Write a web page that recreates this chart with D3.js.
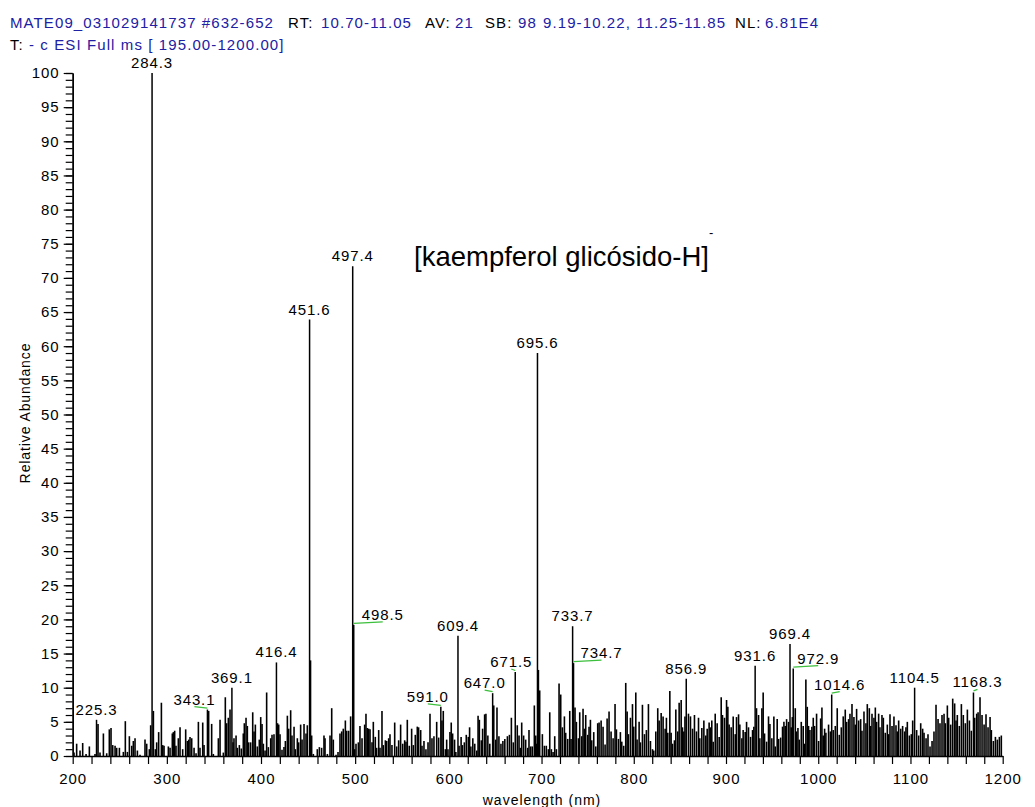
<!DOCTYPE html>
<html><head><meta charset="utf-8">
<script src="https://cdn.jsdelivr.net/npm/d3@7"></script>
<style>
body{margin:0;background:#fff}
text{font-family:"Liberation Sans",Arial,sans-serif}
</style>
</head><body>
<svg id="c" width="1035" height="807"></svg>
<script>
// ---------- DATA ----------
const headerLine1 = [
  ["MATE09_031029141737 #632-652", "v"], ["RT:", "k"], ["10.70-11.05", "v"],
  ["AV:", "k"], ["21", "v"], ["SB:", "k"], ["98", "v"],
  ["9.19-10.22, 11.25-11.85", "v"], ["NL:", "k"], ["6.81E4", "v"]
];
const headerLine2 = [["T:", "k"], ["- c ESI Full ms [ 195.00-1200.00]", "v"]];
const yTitle = "Relative Abundance";
const xTitle = "wavelength (nm)";
const annotation = "[kaempferol glicósido-H]";
const annotationSup = "-";

const xMinorTicks = d3.range(200, 1201, 20);
const xLabelTicks = [200, 300, 400, 500, 600, 700, 800, 900, 1000, 1100, 1200];
const yMinorTicks = d3.range(0, 101, 1);
const yLabelTicks = d3.range(0, 101, 5);

// labelled peaks
const peakMz    = [225.3, 284.3, 343.1, 369.1, 416.4, 451.6, 497.4, 498.5, 591.0, 609.4, 647.0, 671.5, 695.6, 733.7, 734.7, 856.9, 931.6, 969.4, 972.9, 1014.6, 1104.5, 1168.3];
const peakAbund = [5.3, 100, 6.8, 10.0, 13.7, 63.9, 71.7, 19.2, 7.2, 17.6, 9.2, 12.3, 59.0, 19.0, 13.6, 11.3, 13.2, 16.4, 12.8, 9.0, 10.0, 9.3];

// unlabelled spectrum lines [m/z, relative abundance]
const noise = [
[201.4,0.5],[204.2,1.8],[207.8,0.8],[210.6,1.9],[214.2,0.3],[217.7,1.4],[223.7,0.3],[226.9,4.7],[229.0,0.5],[232.6,3.3],[236.1,0.4],[238.9,3.9],[240.7,4.1],[242.5,1.6],[245.0,1.5],[246.7,1.2],[249.6,1.2],[253.8,0.6],[255.9,5.1],[258.1,0.6],[260.2,2.9],[262.7,1.5],[264.4,2.2],[266.2,2.6],[268.7,0.8],[271.5,0.2],[276.8,2.4],[278.6,1.8],[281.4,1.0],[282.8,4.5],[285.7,6.6],[287.8,1.0],[289.2,2.0],[291.3,3.5],[294.2,7.8],[295.6,1.6],[297.0,1.5],
[301.6,1.4],[303.4,1.2],[305.8,3.3],[306.9,3.5],[308.3,3.7],[309.7,1.5],[312.2,2.6],[314.0,4.2],[316.8,1.0],[320.0,3.9],[321.8,2.2],[323.2,2.4],[324.6,2.8],[326.4,2.6],[328.9,1.2],[331.0,0.4],[333.5,5.0],[335.2,1.2],[338.1,4.9],[339.5,1.6],[344.4,6.6],[347.6,4.7],[349.4,0.3],[354.7,2.6],[356.5,5.3],[360.0,0.5],[362.1,8.6],[363.5,4.8],[365.3,5.6],[367.1,6.8],[370.3,2.0],[371.3,2.6],[373.5,3.0],[374.9,1.2],[377.0,1.6],[379.1,1.1],[381.2,3.3],[382.3,4.8],[384.1,5.6],[385.5,4.4],[386.9,2.0],[389.0,2.0],[391.2,6.4],[392.6,3.6],[394.0,4.6],[396.1,1.4],[398.2,2.4],[399.7,5.7],
[401.1,4.7],[402.5,1.8],[404.3,0.8],[406.0,9.3],[407.8,1.3],[410.3,2.6],[411.7,3.1],[413.8,3.2],[417.6,4.8],[418.8,4.6],[420.2,3.2],[422.3,0.9],[424.4,1.3],[425.9,2.2],[428.0,5.9],[429.4,4.0],[431.5,6.7],[432.9,3.0],[435.1,4.3],[436.5,1.0],[438.6,2.6],[440.0,2.0],[442.1,4.6],[443.6,2.4],[445.7,4.7],[447.8,3.3],[449.2,4.5],[452.6,14.0],[453.8,3.0],[455.6,0.3],[459.8,1.0],[462.0,1.3],[464.4,1.2],[466.9,3.0],[468.0,2.6],[470.5,0.3],[473.3,3.0],[475.1,7.0],[476.8,2.4],[479.7,0.2],[481.8,0.6],[483.9,3.3],[485.7,3.6],[487.4,4.0],[489.6,5.2],[491.0,3.7],[493.1,3.7],[495.2,5.8],[499.5,1.0],
[500.9,1.8],[503.4,2.0],[505.1,4.4],[507.3,2.6],[510.1,4.6],[511.5,6.2],[512.9,4.1],[514.4,4.0],[515.8,3.9],[517.9,2.0],[519.3,5.0],[521.4,2.8],[522.8,1.2],[525.0,3.8],[526.4,1.2],[528.5,6.6],[529.9,1.6],[532.1,2.3],[533.5,2.2],[535.6,2.6],[537.0,3.2],[539.1,1.6],[542.0,4.9],[544.1,1.4],[546.2,2.3],[548.3,4.6],[550.5,1.8],[552.6,2.3],[554.0,2.1],[555.4,5.3],[557.5,1.5],[560.0,4.0],[561.8,1.6],[563.9,3.1],[566.0,4.3],[567.4,4.2],[569.6,3.8],[571.0,1.5],[573.1,2.2],[575.2,1.0],[577.4,2.0],[579.5,6.2],[581.6,2.6],[583.7,2.9],[586.6,5.0],[588.7,2.7],[592.2,5.2],[593.6,6.6],[595.8,1.0],[597.2,2.4],[598.6,1.0],
[600.7,3.5],[602.1,4.9],[603.6,3.3],[605.7,2.4],[607.1,0.6],[610.6,1.5],[612.8,2.8],[614.2,1.6],[616.3,2.0],[618.4,3.1],[620.6,2.8],[622.0,4.2],[623.4,1.4],[625.5,2.6],[627.6,1.8],[629.8,0.8],[631.2,5.9],[632.6,5.3],[634.7,2.3],[636.1,4.0],[638.3,6.1],[639.7,6.2],[641.8,3.0],[643.9,1.8],[648.2,7.4],[650.3,2.4],[651.7,7.1],[653.8,2.9],[656.0,1.8],[658.1,2.2],[660.2,2.5],[663.0,2.9],[665.2,3.1],[667.3,5.6],[669.4,2.0],[673.7,4.5],[675.6,3.0],[677.0,1.2],[678.5,4.9],[680.6,3.0],[682.8,2.4],[685.0,1.2],[686.4,3.8],[688.2,1.4],[690.0,1.4],[692.2,7.4],[693.7,3.0],[694.6,1.8],[696.6,12.6],[698.0,9.6],
[700.9,3.2],[703.1,1.5],[705.2,1.5],[707.4,1.0],[708.9,6.4],[710.7,1.0],[712.5,0.6],[714.3,2.9],[716.1,1.0],[719.0,10.6],[720.8,9.0],[722.6,4.2],[724.8,5.8],[726.2,3.4],[728.4,2.5],[730.6,6.6],[732.0,2.5],[736.3,7.1],[737.8,5.0],[740.0,2.6],[741.4,6.4],[743.6,2.9],[745.0,6.9],[746.5,4.0],[747.9,6.0],[750.1,3.1],[751.5,4.3],[753.0,5.3],[754.4,2.3],[756.6,3.5],[758.8,1.4],[760.9,4.8],[762.4,4.9],[764.6,5.2],[766.7,4.3],[768.9,1.7],[771.1,5.5],[773.2,6.5],[775.4,3.6],[777.6,2.6],[779.7,7.6],[781.2,3.9],[783.4,2.5],[785.5,3.5],[787.0,2.1],[789.1,1.5],[791.3,10.7],[792.8,6.5],[794.2,3.2],[796.4,5.6],[798.6,7.6],
[800.0,4.3],[802.2,9.3],[803.6,2.4],[805.8,5.0],[807.2,2.0],[809.4,7.5],[811.6,3.2],[813.7,3.8],[815.9,7.6],[818.1,2.2],[820.3,1.0],[821.7,0.8],[823.9,3.6],[826.0,7.0],[827.5,5.2],[829.7,6.3],[831.8,5.8],[834.0,4.0],[835.4,5.6],[836.9,3.4],[839.1,9.5],[840.5,3.4],[842.0,1.8],[844.1,2.3],[845.6,6.8],[847.7,3.6],[849.2,7.8],[851.4,8.2],[852.8,4.2],[854.3,3.6],[855.5,5.8],[859.3,6.2],[861.5,5.8],[863.7,4.0],[865.8,6.0],[868.0,3.6],[870.2,5.6],[871.6,2.6],[873.8,4.1],[876.0,5.2],[878.1,3.0],[879.6,4.0],[881.7,4.9],[883.2,4.2],[884.6,5.2],[886.1,2.1],[888.3,6.2],[890.4,4.8],[892.6,2.8],[894.8,8.6],[896.2,6.0],[898.4,5.6],
[900.6,8.2],[902.0,7.2],[903.4,4.6],[905.6,4.2],[907.8,5.8],[910.0,3.2],[911.4,5.7],[913.6,6.1],[915.0,4.6],[917.2,2.6],[918.6,3.8],[920.8,3.5],[922.3,5.0],[924.4,4.2],[926.6,2.8],[928.8,3.8],[930.2,4.3],[933.1,7.0],[935.3,6.0],[936.7,2.6],[938.9,7.0],[940.3,9.3],[941.8,3.3],[944.0,2.1],[946.1,5.8],[947.6,4.7],[949.7,2.6],[951.9,5.8],[953.4,1.4],[955.5,5.4],[957.0,2.5],[959.2,2.7],[961.3,4.3],[962.8,5.0],[964.2,4.4],[965.7,5.4],[967.8,5.0],[970.7,4.2],[971.9,5.7],[975.1,7.0],[976.5,3.6],[978.0,4.1],[979.4,2.4],[981.6,5.0],[983.7,4.4],[985.2,1.8],[986.6,11.2],[988.1,7.2],[989.5,4.4],[991.0,3.8],[993.1,4.3],[994.6,5.6],[996.0,4.4],[998.2,6.2],
[1000.4,2.2],[1002.6,5.5],[1004.0,7.1],[1005.4,3.0],[1006.9,4.0],[1008.3,3.4],[1011.2,4.6],[1013.2,3.6],[1016.3,3.8],[1018.5,4.4],[1020.6,7.0],[1022.8,3.1],[1025.0,4.2],[1027.1,5.8],[1029.3,6.8],[1030.8,5.0],[1032.9,5.4],[1034.4,6.2],[1036.6,7.6],[1038.7,5.7],[1040.2,4.6],[1041.6,6.9],[1043.8,5.2],[1046.0,5.4],[1047.4,3.7],[1049.6,6.5],[1051.7,4.8],[1053.2,7.6],[1055.4,7.0],[1056.8,4.4],[1058.3,6.2],[1060.4,5.6],[1061.9,7.1],[1063.3,5.0],[1065.5,6.2],[1066.9,4.2],[1069.1,6.0],[1070.6,5.6],[1072.7,3.4],[1074.9,4.6],[1076.3,3.2],[1077.8,6.1],[1080.0,4.4],[1082.1,5.8],[1084.3,4.5],[1085.7,3.6],[1087.2,5.2],[1089.4,4.0],[1091.5,4.4],[1093.7,3.6],[1095.1,4.2],[1096.6,5.0],[1098.8,3.0],
[1100.9,3.2],[1102.4,5.2],[1106.7,3.8],[1108.9,3.0],[1111.1,4.8],[1113.2,4.0],[1114.7,3.4],[1116.9,2.6],[1119.0,3.2],[1121.2,1.4],[1123.4,2.2],[1125.5,3.6],[1127.7,7.5],[1129.9,5.4],[1132.0,4.8],[1134.2,6.0],[1136.4,6.2],[1137.8,4.8],[1140.0,7.4],[1141.4,5.6],[1143.6,4.6],[1145.8,8.4],[1147.9,7.7],[1149.4,5.2],[1150.8,6.0],[1153.0,4.4],[1155.2,7.6],[1157.3,6.0],[1159.5,4.8],[1161.7,6.8],[1163.9,5.2],[1166.0,3.7],[1169.6,5.6],[1171.8,6.2],[1173.3,6.4],[1175.4,8.6],[1177.6,6.0],[1179.8,4.6],[1181.9,6.1],[1184.1,4.2],[1186.3,5.7],[1187.7,3.8],[1189.9,2.2],[1192.1,2.8],[1194.2,2.4],[1196.4,2.8],[1198.5,3.0]
];

// ---------- LAYOUT ----------
const labelNudge = {"343.1":-13, "498.5":29, "591.0":-13, "647.0":-8, "671.5":-4, "734.7":28, "972.9":25, "1014.6":8, "1168.3":4};
const BLUE = "#2020a4", GREEN = "#3cbf3c";

const svg = d3.select("#c");
svg.append("rect").attr("width",1035).attr("height",807).attr("fill","#fff");

const x = d3.scaleLinear().domain([200, 600, 1200]).range([72.7, 449.3, 1002.7]);
const y = d3.scaleLinear().domain([0, 100]).range([756, 73]);

// header
const hx1 = [10, 288, 321, 425, 455, 485, 518, 543, 735, 765];
const hx2 = [10, 29];
function header(line, xs, yy) {
  const t = svg.append("text").attr("y", yy).attr("font-size", 15).attr("letter-spacing", 1.1);
  line.forEach((s, i) => t.append("tspan").attr("x", xs[i]).attr("fill", s[1] === "v" ? BLUE : "#000").text(s[0]));
}
header(headerLine1, hx1, 28);
header(headerLine2, hx2, 50);

// axes
const gx = svg.append("g").attr("transform", "translate(0,756)")
  .call(d3.axisBottom(x).tickValues(xMinorTicks).tickSize(8).tickSizeOuter(0).tickPadding(9)
    .tickFormat(d => xLabelTicks.includes(d) ? d : ""));
const gy1 = svg.append("g").attr("transform", "translate(72.7,0)")
  .call(d3.axisLeft(y).tickValues(yMinorTicks).tickSize(7).tickSizeOuter(0).tickFormat(""));
const gy2 = svg.append("g").attr("transform", "translate(72.7,0)")
  .call(d3.axisLeft(y).tickValues(yLabelTicks).tickSize(9).tickSizeOuter(0).tickPadding(4));
[gx, gy1, gy2].forEach(g => {
  g.selectAll("path.domain").attr("stroke", "#000").attr("stroke-width", 1.4);
  g.selectAll(".tick line").attr("stroke", "#000").attr("stroke-width", 1.2);
  g.selectAll(".tick text").attr("font-family", "Liberation Sans, Arial, sans-serif")
    .attr("font-size", 15).attr("letter-spacing", 1).attr("fill", "#000");
});

// spectrum lines
const bars = svg.append("g").attr("stroke", "#000").attr("stroke-width", 1.6);
bars.selectAll("line.n").data(noise).join("line").attr("class", "n")
  .attr("x1", d => x(d[0])).attr("x2", d => x(d[0]))
  .attr("y1", y(0)).attr("y2", d => y(d[1]));
const peaks = peakMz.map((m, i) => ({ m, a: peakAbund[i], key: m.toFixed(1) }));
bars.selectAll("line.p").data(peaks).join("line").attr("class", "p")
  .attr("stroke-width", 1.5)
  .attr("x1", d => x(d.m)).attr("x2", d => x(d.m))
  .attr("y1", y(0)).attr("y2", d => y(d.a));

// leaders + labels
svg.append("g").selectAll("line").data(peaks.filter(d => labelNudge[d.key] !== undefined)).join("line")
  .attr("stroke", GREEN).attr("stroke-width", 1.3)
  .attr("x1", d => x(d.m)).attr("y1", d => y(d.a) - 1.5)
  .attr("x2", d => x(d.m) + labelNudge[d.key]).attr("y2", d => y(d.a) - 3);
svg.append("g").selectAll("text").data(peaks).join("text")
  .attr("x", d => x(d.m) + (labelNudge[d.key] || 0)).attr("y", d => y(d.a) - 5)
  .attr("text-anchor", "middle").attr("font-size", 15).attr("letter-spacing", 0.9)
  .attr("fill", "#000").text(d => d.key);

// axis titles
svg.append("text").attr("x", 542).attr("y", 805).attr("text-anchor", "middle")
  .attr("font-size", 14).attr("letter-spacing", 1).text(xTitle);
svg.append("text").attr("transform", "translate(30,413) rotate(-90)").attr("text-anchor", "middle")
  .attr("font-size", 14).attr("letter-spacing", 0.9).text(yTitle);

// annotation
svg.append("text").attr("x", 414).attr("y", 266).attr("font-family", "Lato, 'Open Sans', sans-serif")
  .attr("font-size", 27.5).attr("fill", "#000").text(annotation);
svg.append("text").attr("x", 709).attr("y", 237).attr("font-family", "Lato, sans-serif")
  .attr("font-size", 13).attr("fill", "#000").text(annotationSup);
</script>
</body></html>
